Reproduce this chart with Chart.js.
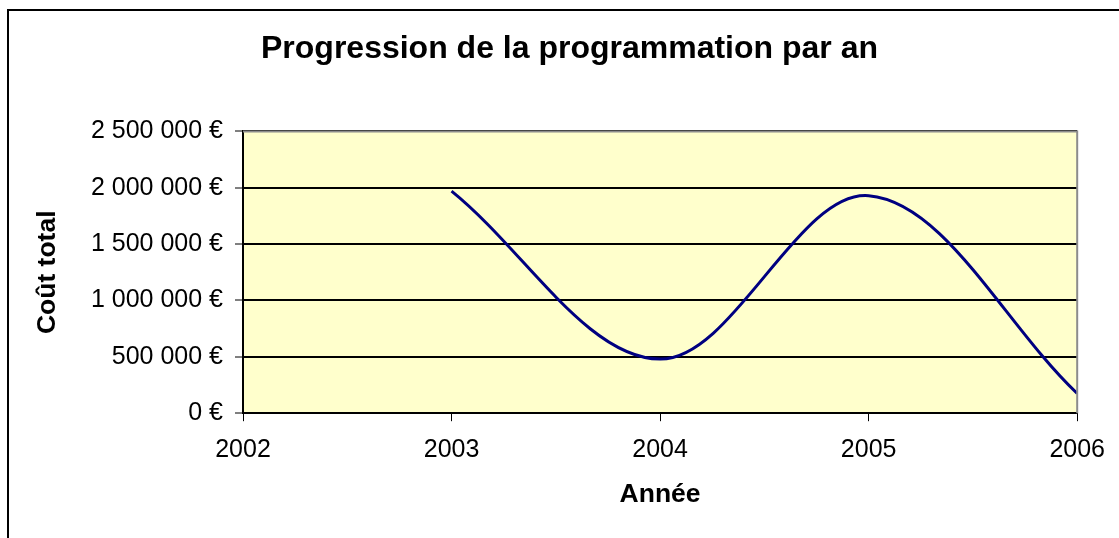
<!DOCTYPE html>
<html>
<head>
<meta charset="utf-8">
<script src="https://cdn.jsdelivr.net/npm/chart.js@4.4.0/dist/chart.umd.min.js"></script>
<style>
    html, body { margin: 0; padding: 0; background: #fff; overflow: hidden; }
    #frame { position: absolute; left: 7px; top: 9px; width: 1300px; height: 700px;
             border-left: 2px solid #000; border-top: 2px solid #000; }
    #wrap { position: absolute; left: 0; top: 0; width: 1119px; height: 538px; }
</style>
</head>
<body>
<div id="frame"></div>
<div id="wrap"><canvas id="myChart" width="1119" height="538"></canvas></div>
<script>
const years = [2003, 2004, 2005, 2006];
const cost = [1970000, 480000, 1930000, 175000];
const yTicks = [0, 500000, 1000000, 1500000, 2000000, 2500000];

function euro(v) {
    return String(v).replace(/\B(?=(\d{3})+(?!\d))/g, ' ') + ' €';
}

// fond jaune + bordure grise de la zone de tracé
const plotBg = {
    id: 'plotBg',
    beforeDraw(chart) {
        const a = chart.chartArea;
        const c = chart.ctx;
        c.save();
        c.fillStyle = '#FFFFCC';
        c.fillRect(a.left, a.top, a.right - a.left, a.bottom - a.top);
        c.restore();
    },
    afterDatasetsDraw(chart) {
        const a = chart.chartArea;
        const c = chart.ctx;
        c.save();
        c.strokeStyle = '#8c8c8c';
        c.lineWidth = 2;
        c.beginPath();
        c.moveTo(a.left, a.top);
        c.lineTo(a.right, a.top);
        c.lineTo(a.right, a.bottom);
        c.stroke();
        c.restore();
    }
};

Chart.defaults.font.family = '"Liberation Sans", Arial, sans-serif';
Chart.defaults.color = '#000';

const ctx = document.getElementById('myChart').getContext('2d');
const myChart = new Chart(ctx, {
    type: 'line',
    data: {
        datasets: [{
            label: 'Coût total',
            data: years.map((y, i) => ({ x: y, y: cost[i] })),
            borderColor: '#000080',
            borderWidth: 3,
            pointRadius: 0,
            tension: 0.35,
            fill: false
        }]
    },
    options: {
        responsive: false,
        animation: false,
        layout: { padding: { left: 61, right: 41, top: 0, bottom: 27 } },
        plugins: {
            legend: { display: false },
            tooltip: { enabled: false },
            title: {
                display: true,
                text: 'Progression de la programmation par an',
                font: { size: 32, weight: 'bold' },
                padding: { top: 30, bottom: 63 }
            }
        },
        scales: {
            x: {
                type: 'linear',
                min: 2002,
                max: 2006,
                ticks: {
                    stepSize: 1,
                    font: { size: 25 },
                    padding: 14,
                    callback: v => String(v)
                },
                grid: { drawOnChartArea: false, drawTicks: true, tickLength: 8, color: '#000', lineWidth: 1 },
                border: { color: '#000', width: 2 },
                title: {
                    display: true,
                    text: 'Année',
                    font: { size: 26.5, weight: 'bold' },
                    padding: { top: 0, bottom: 0 }
                }
            },
            y: {
                min: 0,
                max: 2500000,
                afterBuildTicks: s => { s.ticks = yTicks.map(v => ({ value: v })); },
                afterFit: s => { s.width = 182; },
                ticks: {
                    font: { size: 25 },
                    padding: 12,
                    callback: v => euro(v)
                },
                grid: { color: '#000', lineWidth: 2, tickWidth: 1, tickLength: 8 },
                border: { color: '#000', width: 2 },
                title: {
                    display: true,
                    text: 'Coût total',
                    font: { size: 26.5, weight: 'bold' },
                    padding: { top: -29, bottom: 0 }
                }
            }
        }
    },
    plugins: [plotBg]
});
</script>
</body>
</html>
